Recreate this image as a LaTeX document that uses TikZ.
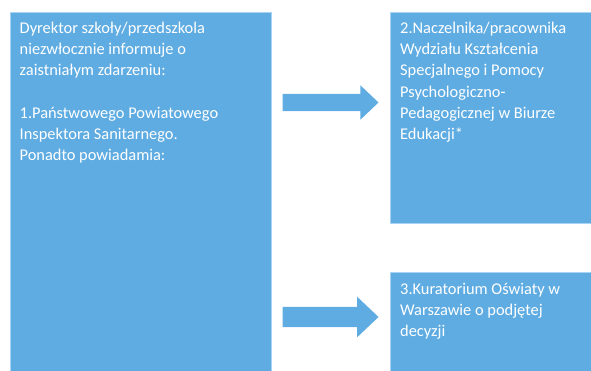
\documentclass[tikz,border=0pt]{standalone}
\usepackage{fontspec}
\setmainfont{Carlito}
\usetikzlibrary{shapes.arrows,positioning}
\definecolor{boxblue}{HTML}{5FACE2}
\definecolor{boxedge}{HTML}{A9D3F2}
\newcommand{\boxlines}[1]{\begin{tabular}[t]{@{}l@{}}#1\end{tabular}}
\tikzset{
  x=1pt, y=-1pt,
  bluebox/.style={fill=boxblue, draw=boxedge, line width=0.8pt, anchor=north west, inner sep=0pt},
  boxtext/.style={anchor=base west, inner sep=0pt, text=white,
    font=\fontsize{16.4}{21.2}\selectfont},
  blockarrow/.style={shape=single arrow, fill=boxblue, draw=none, inner xsep=0pt,
    text height=0pt, text depth=0pt, single arrow tip angle=87, anchor=west}
}
\begin{document}
\begin{tikzpicture}
\useasboundingbox (0,0) rectangle (591,370);
% boxes
\node[bluebox, minimum width=261pt, minimum height=365pt] (left) at (9.5,11.5) {};
\node[bluebox, minimum width=210pt, minimum height=211.5pt] (r1) at (389.5,11.5) {};
\node[bluebox, minimum width=210pt, minimum height=110pt] (r2) at (389.5,271.5) {};
% texts
\node[boxtext] (lt) at (19.5,33.5) {\boxlines{Dyrektor szkoły/przedszkola\\niezwłocznie informuje o\\zaistniałym zdarzeniu:\\ \\1.Państwowego Powiatowego\\Inspektora Sanitarnego.\\Ponadto powiadamia:}};
\node[boxtext] (r1t) at (400,33.5) {\boxlines{2.Naczelnika/pracownika\\Wydziału Kształcenia\\Specjalnego i Pomocy\\Psychologiczno-\\Pedagogicznej w Biurze\\Edukacji*}};
\node[boxtext] (r2t) at (400,294) {\boxlines{3.Kuratorium Oświaty w\\Warszawie o podjętej\\decyzji}};
% arrows
\node[blockarrow, minimum height=96pt, inner ysep=8.5pt, single arrow head extend=8.5pt] (a1) at (282.3,102.5) {};
\node[blockarrow, minimum height=96pt, inner ysep=10pt, single arrow head extend=10pt] (a2) at (282.3,317) {};
\end{tikzpicture}
\end{document}
